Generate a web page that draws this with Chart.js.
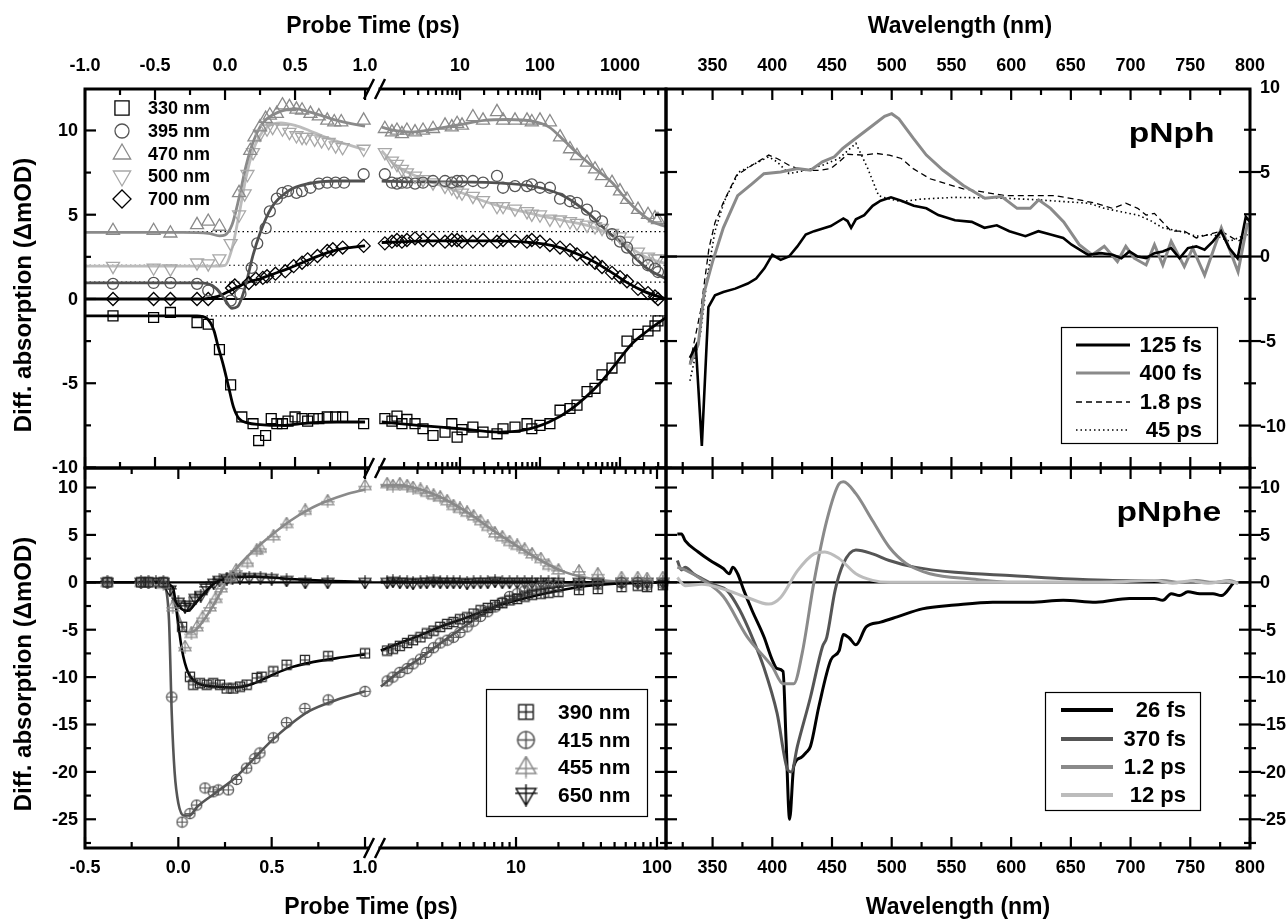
<!DOCTYPE html>
<html>
<head>
<meta charset="utf-8">
<script src="https://cdn.jsdelivr.net/npm/chart.js@4.4.1/dist/chart.umd.min.js"></script>
<style>
  body { margin: 0; background: #fff; }
  #fig { position: relative; width: 1287px; height: 920px; overflow: hidden;
         font-family: "Liberation Sans", Arial, Helvetica, sans-serif; font-weight: bold; color: #000; }
  #fig canvas { position: absolute; left: 0; top: 0; }
  .t { position: absolute; white-space: nowrap; line-height: 1; }
  .c { transform: translate(-50%, -50%); }
  .v { transform: translate(-50%, -50%) rotate(-90deg); }
  .lab { font-size: 28px; line-height: 28px; transform: scaleX(1.2); transform-origin: right center; }
</style>
</head>
<body>
<div id="fig">
  <canvas id="tlLin" width="1287" height="920"></canvas>
  <canvas id="tlLog" width="1287" height="920"></canvas>
  <canvas id="blLin" width="1287" height="920"></canvas>
  <canvas id="blLog" width="1287" height="920"></canvas>
  <canvas id="tr" width="1287" height="920"></canvas>
  <canvas id="br" width="1287" height="920"></canvas>

  <div class="t c" style="left:373px;top:25px;font-size:23px">Probe Time (ps)</div>
  <div class="t c" style="left:960px;top:25px;font-size:23px">Wavelength (nm)</div>
  <div class="t c" style="left:371px;top:906px;font-size:23px">Probe Time (ps)</div>
  <div class="t c" style="left:958px;top:906px;font-size:23px">Wavelength (nm)</div>
  <div class="t v" style="left:23px;top:295px;font-size:24px">Diff. absorption (ΔmOD)</div>
  <div class="t v" style="left:23px;top:674px;font-size:24px">Diff. absorption (ΔmOD)</div>
  <div class="t lab" style="right:72px;top:119px">pNph</div>
  <div class="t lab" style="right:66px;top:498px">pNphe</div>
</div>

<script>
// ---------- pNph kinetics (top left) ----------
const topNames = ['330 nm', '395 nm', '470 nm', '500 nm', '700 nm'];

// markers before the axis break (t <= 1 ps): [time, dA]
const k330 = [[-0.8,-1.0],[-0.51,-1.1],[-0.39,-0.8],[-0.2,-1.4],[-0.12,-1.5],[-0.04,-3.0],[0.04,-5.1],[0.12,-7.0],[0.2,-7.4],[0.24,-8.4],[0.29,-8.1],[0.33,-7.1],[0.37,-7.4],[0.41,-7.4],[0.45,-7.25],[0.5,-7.0],[0.55,-7.1],[0.59,-7.25],[0.63,-7.1],[0.67,-7.1],[0.73,-7.0],[0.79,-7.0],[0.84,-7.0],[0.99,-7.4]];
const k395 = [[-0.8,0.9],[-0.51,0.95],[-0.39,0.95],[-0.2,0.9],[-0.12,0.5],[0.04,-0.1],[0.11,0.3],[0.19,1.85],[0.23,3.3],[0.29,4.2],[0.32,5.2],[0.37,5.95],[0.41,6.3],[0.45,6.4],[0.51,6.3],[0.55,6.4],[0.61,6.6],[0.67,6.85],[0.73,6.9],[0.79,6.9],[0.85,6.9],[0.99,7.4]];
const k470 = [[-0.8,4.05],[-0.51,4.05],[-0.39,3.9],[-0.2,4.4],[-0.12,4.6],[-0.04,4.3],[0.1,6.3],[0.18,8.8],[0.21,9.6],[0.25,10.2],[0.29,10.7],[0.32,10.9],[0.37,11.0],[0.41,11.5],[0.46,11.4],[0.51,11.25],[0.55,11.2],[0.61,11.0],[0.67,10.85],[0.73,10.6],[0.78,10.5],[0.83,10.5],[0.99,10.6]];
const k500 = [[-0.8,1.95],[-0.51,1.85],[-0.39,1.8],[-0.2,2.15],[-0.12,2.1],[-0.04,2.4],[0.04,3.3],[0.1,5.0],[0.14,6.25],[0.16,7.4],[0.2,8.7],[0.25,9.8],[0.3,10.1],[0.34,10.2],[0.41,10.1],[0.46,9.9],[0.51,9.7],[0.55,9.6],[0.58,9.6],[0.64,9.5],[0.69,9.4],[0.74,9.3],[0.79,9.1],[0.84,9.0],[0.99,8.9]];
const k700 = [[-0.8,0],[-0.51,0],[-0.39,0],[-0.2,0],[-0.12,0],[0.05,0.65],[0.07,0.8],[0.17,0.95],[0.22,1.2],[0.27,1.25],[0.3,1.35],[0.36,1.5],[0.43,1.65],[0.49,1.95],[0.55,2.15],[0.59,2.35],[0.66,2.55],[0.73,2.85],[0.77,2.95],[0.84,3.05],[0.99,3.15]];

// markers after the break (log time axis)
const tLogTop = [1.15,1.41,1.63,1.88,2.17,2.74,3.45,4.6,6.5,7.9,9.2,10.6,14.5,19.4,29,34.5,48.7,68.8,79,100,133,178,237,290,387,487,596,794,1000,1223,1679,2239,2738,2985];
const k330L = [-7.1,-7.25,-6.95,-7.4,-7.15,-7.4,-7.7,-8.1,-7.9,-7.4,-8.2,-7.75,-7.6,-7.9,-8.0,-7.7,-7.6,-7.4,-7.7,-7.5,-7.4,-6.6,-6.5,-6.3,-5.5,-5.3,-4.5,-4.1,-3.5,-2.5,-2.1,-1.9,-1.6,-1.3];
const k395L = [7.4,6.9,6.85,6.9,6.9,6.85,6.9,7.0,7.0,6.9,7.0,7.0,7.0,6.9,7.3,6.6,6.7,6.7,6.8,6.6,6.6,5.95,5.8,5.7,5.3,4.9,4.6,3.85,3.4,3.05,2.3,2.0,1.8,1.6];
const k470L = [10.1,9.9,10.0,9.8,10.0,9.9,10.0,10.1,10.3,10.2,10.4,10.3,10.8,10.6,11.1,10.6,10.6,10.6,10.5,10.6,10.5,9.6,8.9,8.5,8.1,7.7,7.3,6.9,6.4,5.9,5.3,5.0,4.8,4.7];
const k500L = [8.7,8.2,8.0,7.7,7.5,7.3,7.1,6.9,6.7,6.6,6.4,6.3,6.1,5.85,5.5,5.5,5.35,5.2,5.05,5.0,4.75,4.7,4.6,4.5,4.4,4.3,4.2,3.9,3.7,3.45,2.8,2.5,2.4,2.4];
const k700L = [3.3,3.4,3.5,3.4,3.5,3.6,3.5,3.5,3.4,3.5,3.5,3.4,3.4,3.5,3.4,3.5,3.45,3.4,3.5,3.4,3.2,3.05,2.9,2.65,2.4,2.15,1.9,1.55,1.3,1.05,0.6,0.35,0.15,0.0];

// fit curves (both sides of the break)
const f330 = [[-1,-1.0],[-0.2,-1.0],[-0.13,-1.15],[-0.08,-1.85],[-0.05,-2.8],[-0.01,-4.0],[0.025,-5.2],[0.06,-6.4],[0.1,-7.1],[0.16,-7.35],[0.25,-7.45],[0.4,-7.5],[0.6,-7.35],[0.8,-7.3],[1.0,-7.3],[1.05,-7.3],[3,-7.5],[10,-7.7],[30,-7.9],[60,-7.8],[130,-7.3],[250,-6.5],[560,-5.0],[900,-3.8],[1450,-2.6],[2200,-1.9],[3758,-1.1]];
const f395 = [[-1,0.95],[-0.2,0.95],[-0.12,0.9],[-0.06,0.6],[0.0,-0.05],[0.05,-0.55],[0.09,-0.45],[0.14,0.6],[0.2,2.6],[0.25,3.9],[0.33,5.4],[0.45,6.4],[0.6,6.85],[0.8,7.0],[1.0,7.0],[1.05,7.0],[3,6.95],[10,6.95],[40,6.85],[100,6.6],[200,6.1],[400,5.1],[700,4.0],[1000,3.4],[1500,2.5],[2200,1.8],[3758,1.2]];
const f470 = [[-1,3.95],[-0.3,3.95],[-0.12,3.9],[-0.04,3.75],[0.0,3.8],[0.05,4.4],[0.1,6.0],[0.15,7.9],[0.2,9.3],[0.25,10.2],[0.3,10.7],[0.4,11.15],[0.5,11.3],[0.6,11.1],[0.7,10.85],[0.8,10.6],[0.9,10.4],[1.0,10.25],[1.05,10.2],[1.5,10.0],[2.5,9.9],[5,10.1],[10,10.35],[20,10.6],[40,10.65],[80,10.55],[130,10.2],[200,9.4],[300,8.6],[500,7.7],[800,6.9],[1200,5.9],[1700,5.2],[2500,4.6],[3758,4.3]];
const f500 = [[-1,1.95],[-0.1,1.95],[0.0,2.0],[0.05,3.0],[0.1,5.0],[0.15,7.2],[0.2,8.8],[0.25,9.7],[0.3,10.2],[0.4,10.45],[0.5,10.3],[0.6,10.0],[0.7,9.65],[0.8,9.35],[0.9,9.1],[1.0,8.85],[1.05,8.8],[1.5,8.0],[2.5,7.4],[4,7.0],[7,6.6],[12,6.2],[20,5.8],[35,5.45],[60,5.2],[100,4.95],[200,4.65],[400,4.35],[700,3.9],[1000,3.5],[1500,2.9],[2200,2.45],[3758,2.1]];
const f700 = [[-1,0],[-0.15,0],[-0.05,0.15],[0.05,0.55],[0.15,0.95],[0.25,1.2],[0.35,1.5],[0.45,1.8],[0.55,2.15],[0.65,2.5],[0.75,2.8],[0.85,3.0],[1.0,3.15],[1.05,3.35],[5,3.45],[30,3.45],[80,3.35],[150,3.15],[300,2.65],[500,2.15],[800,1.55],[1200,1.0],[2000,0.45],[3758,0.0]];

// ---------- pNphe kinetics (bottom left) ----------
const botNames = ['390 nm', '415 nm', '455 nm', '650 nm'];
const b390 = [[-0.38,0],[-0.2,0],[-0.16,0],[-0.08,0],[0.02,-4.7],[0.062,-9.96],[0.08,-10.8],[0.116,-10.65],[0.152,-10.8],[0.187,-10.65],[0.223,-10.8],[0.259,-11.2],[0.294,-11.2],[0.33,-11.0],[0.366,-10.8],[0.42,-10.1],[0.446,-9.96],[0.509,-9.4],[0.58,-8.7],[0.678,-8.2],[0.803,-7.8],[1.0,-7.5]];
const b415 = [[-0.38,0],[-0.2,0],[-0.16,0],[-0.08,0],[-0.035,-12.1],[0.02,-25.3],[0.062,-24.4],[0.098,-23.5],[0.143,-21.7],[0.187,-22.1],[0.214,-21.9],[0.268,-21.9],[0.312,-20.8],[0.366,-19.6],[0.41,-18.6],[0.437,-18.0],[0.509,-16.4],[0.58,-14.8],[0.678,-13.3],[0.803,-12.4],[1.0,-11.5]];
const b455 = [[-0.38,0],[-0.2,0],[-0.16,0],[-0.08,-0.2],[-0.03,-2.6],[0.036,-6.8],[0.07,-5.4],[0.1,-4.7],[0.13,-3.7],[0.17,-2.6],[0.2,-1.7],[0.23,-0.6],[0.28,0.5],[0.31,1.3],[0.37,2.1],[0.42,3.4],[0.44,3.6],[0.51,4.9],[0.58,6.2],[0.68,7.6],[0.8,8.6],[1.0,10.2]];
const b650 = [[-0.38,0],[-0.2,0],[-0.16,0],[-0.12,0],[-0.08,0],[-0.045,-0.8],[0.0,-2.1],[0.036,-2.6],[0.06,-2.4],[0.09,-1.7],[0.12,-1.4],[0.15,-0.6],[0.19,-0.1],[0.22,0.2],[0.26,0.4],[0.29,0.5],[0.33,0.5],[0.38,0.5],[0.44,0.5],[0.5,0.4],[0.58,0.2],[0.68,0.0],[0.8,0.0],[1.0,0.0]];

const tLogBot = [1.22,1.34,1.5,1.69,1.86,2.1,2.33,2.6,2.9,3.25,3.6,4.0,4.5,5.0,5.6,6.3,7.1,8.0,9.0,10.2,11.5,13,15,17,20,28,38,56,73,85,110];
const b390L = [-7.2,-7.0,-6.7,-6.4,-6.1,-5.8,-5.4,-5.1,-4.7,-4.4,-4.2,-3.9,-3.7,-3.3,-2.95,-2.7,-2.4,-2.2,-1.9,-1.75,-1.5,-1.3,-1.2,-1.1,-1.0,-0.8,-0.7,-0.5,-0.35,-0.5,-0.3];
const b415L = [-10.4,-10.0,-9.5,-9.1,-8.6,-8.1,-7.4,-6.9,-6.4,-6.1,-5.8,-5.3,-4.7,-4.1,-3.6,-3.1,-2.6,-2.1,-1.5,-1.2,-0.9,-0.7,-0.5,-0.4,-0.3,-0.2,-0.1,0,0,-0.3,-0.1];
const b455L = [10.4,10.2,10.4,10.2,10.0,9.8,9.5,9.2,9.0,8.6,8.1,7.8,7.4,7.0,6.5,5.9,5.2,4.8,4.3,3.9,3.5,3.0,2.5,1.8,1.3,1.2,0.9,0.5,0.5,0.4,0.5];
const b650L = [0,0.1,0,0,-0.1,0,0,0.1,0,0,0,0,-0.1,0,0,0,0.1,0,0,0,0,0,0,0,0,0,0,0,0,0,0];

const g390 = [[-0.5,0],[-0.1,0],[-0.03,-0.5],[0,-4.5],[0.02,-7.2],[0.05,-9.4],[0.1,-10.6],[0.2,-11.0],[0.3,-11.1],[0.4,-10.7],[0.5,-9.8],[0.6,-9.0],[0.7,-8.5],[0.85,-8.0],[1.0,-7.6],[1.1,-7.2],[1.5,-6.4],[2,-5.7],[3,-4.6],[4.5,-3.7],[7,-2.6],[13,-1.5],[28,-0.5],[50,-0.15],[116,0]];
const g415 = [[-0.5,0],[-0.1,0],[-0.07,-0.5],[-0.05,-4],[-0.035,-14],[-0.02,-20],[0.0,-23.3],[0.03,-24.6],[0.06,-24.6],[0.1,-23.7],[0.2,-22.2],[0.3,-20.7],[0.4,-18.7],[0.5,-16.7],[0.6,-15.0],[0.7,-13.6],[0.85,-12.4],[1.0,-11.5],[1.1,-11.0],[1.5,-9.4],[2,-8.2],[3,-6.3],[5,-4.0],[8,-2.2],[12,-1.1],[20,-0.45],[35,-0.15],[116,0]];
const g455 = [[-0.5,0],[-0.1,0],[-0.05,-0.5],[0.0,-3.5],[0.05,-5.3],[0.08,-5.2],[0.15,-3.6],[0.2,-2.0],[0.25,-0.2],[0.3,1.2],[0.4,3.3],[0.5,5.0],[0.6,6.5],[0.7,7.7],[0.8,8.6],[0.9,9.3],[1.0,9.8],[1.1,10.2],[1.4,10.25],[2,9.9],[3,8.9],[4.5,7.4],[7,5.4],[10,3.9],[15,2.3],[22,1.1],[35,0.35],[60,0.05],[116,0]];
const g650 = [[-0.5,0],[-0.1,0],[-0.05,-0.6],[0.0,-2.5],[0.05,-3.0],[0.1,-2.0],[0.15,-0.9],[0.2,0.0],[0.3,0.5],[0.4,0.6],[0.5,0.5],[0.6,0.35],[0.8,0.15],[1.0,0.05],[1.1,0],[116,0]];

// ---------- pNph spectra (top right): [nm, dA] ----------
const specTopNames = ['125 fs', '400 fs', '1.8 ps', '45 ps'];
const s125 = [[331,-6.0],[336,-5.3],[341,-11.2],[346.5,-3.0],[352,-2.3],[359,-2.1],[369,-1.9],[379.5,-1.6],[386.5,-1.3],[393.4,-0.7],[400,0.1],[407,-0.2],[414,0.0],[421,0.6],[428,1.3],[435,1.5],[449,1.8],[459.5,2.25],[463,2.1],[466,1.7],[470,2.2],[477,2.45],[484,3.0],[490.7,3.3],[499.4,3.5],[508,3.3],[518.5,3.0],[529,2.85],[539,2.45],[553,2.15],[567,2.05],[577.6,1.7],[588,1.85],[598.5,1.5],[612,1.2],[622.8,1.5],[633,1.3],[643.6,1.1],[650.6,0.7],[664.5,0.1],[675,0.2],[685,0.1],[692.3,-0.1],[699,0.3],[706,0.0],[713,-0.1],[720,0.2],[727,0.3],[734,0.5],[741,-0.1],[748,0.5],[755,0.6],[762,0.4],[769,0.9],[775.7,1.5],[782.6,0.5],[789.6,-0.1],[796.5,2.35],[800,2.05]];
const s400 = [[331,-6.4],[338,-5.2],[343,-2.1],[350,-0.3],[359,1.7],[371,3.6],[383,4.3],[393,4.9],[407,5.0],[421,5.2],[432,5.1],[442,5.6],[452,5.9],[459,6.4],[470,7.0],[484,7.75],[494,8.3],[500,8.45],[506,8.15],[518,7.0],[529,6.0],[543,5.1],[560,4.2],[578,3.45],[592,3.55],[605,2.85],[616,2.85],[623,3.35],[633,2.85],[644,2.05],[657,0.7],[668,0.1],[678,0.6],[689,-0.3],[696,0.6],[703,-0.1],[713,-0.5],[720,0.7],[727,-0.5],[734,0.9],[745,-0.6],[752,0.5],[762,-1.1],[776,1.7],[790,-0.9],[798,2.0]];
const s1p8 = [[331,-6.3],[340,-3.2],[347,0.5],[352,2.0],[359,3.2],[370,4.8],[383,5.4],[397,6.0],[404,5.8],[414,5.4],[425,5.1],[439,5.1],[449,5.2],[456,5.6],[463,6.05],[477,6.0],[487,6.1],[498,6.0],[508,5.8],[518,5.2],[532,4.6],[546,4.3],[560,4.0],[578,3.8],[595,3.6],[619,3.6],[637,3.6],[657,3.35],[671,3.15],[685,2.85],[696,3.15],[706,2.85],[713,2.45],[720,2.55],[734,1.5],[745,1.5],[755,1.1],[765,1.3],[776,1.5],[790,0.9],[798,1.3]];
const s45 = [[331,-7.35],[340,-4.5],[346,-1.0],[352,1.5],[360,3.3],[372,5.0],[383,5.4],[397,5.9],[404,5.6],[414,4.9],[428,5.1],[442,5.4],[456,5.8],[470,6.7],[480,5.2],[489,3.6],[498,3.4],[508,3.25],[525,3.4],[553,3.5],[595,3.45],[623,3.35],[644,3.25],[665,3.15],[678,2.85],[692,2.65],[706,2.45],[716,2.15],[727,1.7],[741,1.5],[755,1.2],[769,1.3],[783,0.9],[797,1.3]];

// ---------- pNphe spectra (bottom right) ----------
const specBotNames = ['26 fs', '370 fs', '1.2 ps', '12 ps'];
const p26 = [[320.5,5.1],[324,5.1],[327,4.4],[338,3.2],[348,2.3],[359,1.45],[364,0.9],[367,1.6],[371,0.9],[376,-0.8],[383,-2.95],[393,-5.75],[400,-8.2],[404,-9.1],[409,-9.4],[411.5,-16.6],[414.5,-25.0],[418,-19.4],[424,-18.5],[428,-18.0],[432,-17.3],[439,-13.1],[449,-8.2],[456,-7.2],[459.5,-5.5],[464.7,-5.9],[470,-6.6],[478.6,-4.7],[490.7,-4.2],[504.6,-3.65],[525.5,-2.8],[553,-2.4],[584.6,-2.1],[616,-2.1],[643.6,-1.9],[671,-2.1],[699,-1.7],[720,-1.7],[727,-1.9],[734,-1.2],[741,-1.4],[748,-1.0],[758,-1.2],[769,-1.2],[776,-1.4],[786,-0.1]];
const p370 = [[320.5,2.3],[324,1.3],[327,1.6],[334,0.9],[341,0.4],[352,-0.3],[362,-0.85],[372.6,-2.9],[383,-5.75],[393,-9.0],[404,-13.8],[413,-19.8],[416,-20.0],[421,-17.3],[432,-12.1],[442,-6.8],[445.6,-5.8],[452.5,-0.9],[459.5,1.96],[470,3.4],[484,3.0],[498,2.3],[519,1.6],[553,1.05],[602,0.7],[650,0.35],[685,0.2],[725,0.2]];
const p1p2 = [[320.5,1.6],[327,1.3],[341,0.3],[359,-1.5],[379,-5.75],[400,-8.9],[409,-10.7],[418,-10.7],[425,-7.5],[435,0.1],[445.6,6.5],[456,10.4],[459.5,10.6],[470,9.35],[484,6.5],[498,3.7],[512,2.0],[532,0.9],[567,0.35],[602,0.0],[637,0.0],[671,0.0],[706,0.2],[727,0.2],[741,0.0],[755,0.2],[769,0.0],[783,0.2],[790,-0.1]];
const p12 = [[320.5,0.5],[327,-0.35],[341,-0.2],[359,-0.7],[379,-1.6],[397,-2.3],[407,-1.6],[421,1.2],[435,3.0],[444,3.2],[456,2.5],[470,0.9],[484,0.2],[498,0.0],[560,0.0],[620,0.0],[680,0.0],[720,0.2],[735,-0.1],[750,0.15],[765,-0.1],[780,0.1],[790,-0.1]];

// ---------- axis ticks ----------
const linTopMajor = [-1, -0.5, 0, 0.5, 1];
const linTopMinor = [-0.75, -0.25, 0.25, 0.75];
const linBotMajor = [-0.5, 0, 0.5, 1];
const linBotMinor = [-0.25, 0.25, 0.75];
const logTopMajor = [10, 100, 1000];
const logBotMajor = [10, 100];
const logMinor = [2,3,4,5,6,7,8,9,20,30,40,50,60,70,80,90,200,300,400,500,600,700,800,900,2000,3000];
const wlMajor = [350, 400, 450, 500, 550, 600, 650, 700, 750, 800];
const wlMinor = [325, 375, 425, 475, 525, 575, 625, 675, 725, 775];
const yTopMajor = [-10, -5, 0, 5, 10];
const yTopMinor = [-12.5, -7.5, -2.5, 2.5, 7.5];
const yBotMajor = [-25, -20, -15, -10, -5, 0, 5, 10];
const yBotMinor = [-27.5, -22.5, -17.5, -12.5, -7.5, -2.5, 2.5, 7.5];

// ---------- layout ----------
const W = 1287, H = 920;
const FONT = '"Liberation Sans", Arial, Helvetica, sans-serif';
const TICKF = 'bold 18px ' + FONT;
const boxTLlin = [85, 89, 368, 468], boxTLlog = [380, 89, 666, 468];
const boxBLlin = [85, 468, 368, 848], boxBLlog = [380, 468, 666, 848];
const boxTR = [666, 89, 1250, 468], boxBR = [666, 468, 1250, 848];

const isLin = t => t <= 1.0001;
const isLog = t => t > 1.0001;
const pts = (arr, keep) => arr.filter(p => !keep || keep(p[0])).map(p => ({ x: p[0], y: p[1] }));
const zip = (ts, vs) => ts.map((t, i) => [t, vs[i]]);

function plusMark(kind, size, color) {
  const c = document.createElement('canvas');
  c.width = c.height = size;
  const g = c.getContext('2d');
  const s = size, h = s / 2;
  g.strokeStyle = color;
  g.lineWidth = size > 15 ? 1.5 : 1.2;
  g.beginPath();
  if (kind === 'sq') {
    const a = s * 0.12, b = s * 0.88;
    g.rect(a, a, b - a, b - a);
    g.moveTo(h, a); g.lineTo(h, b); g.moveTo(a, h); g.lineTo(b, h);
  } else if (kind === 'ci') {
    const r = s * 0.4;
    g.arc(h, h, r, 0, 2 * Math.PI);
    g.moveTo(h, h - r); g.lineTo(h, h + r); g.moveTo(h - r, h); g.lineTo(h + r, h);
  } else if (kind === 'up') {
    g.moveTo(h, s * 0.04); g.lineTo(s * 0.93, s * 0.78); g.lineTo(s * 0.07, s * 0.78); g.closePath();
    g.moveTo(h, s * 0.04); g.lineTo(h, s * 0.98); g.moveTo(s * 0.02, s * 0.56); g.lineTo(s * 0.98, s * 0.56);
  } else {
    g.moveTo(s * 0.07, s * 0.22); g.lineTo(s * 0.93, s * 0.22); g.lineTo(h, s * 0.96); g.closePath();
    g.moveTo(h, s * 0.02); g.lineTo(h, s * 0.96); g.moveTo(s * 0.02, s * 0.42); g.lineTo(s * 0.98, s * 0.42);
  }
  g.stroke();
  return c;
}

function markers(data, style, color, r, rot) {
  return { data, showLine: false, pointStyle: style, pointRadius: r, pointRotation: rot || 0,
           pointBorderColor: color, pointBackgroundColor: 'rgba(0,0,0,0)', pointBorderWidth: 1.3, clip: 12 };
}
function curve(data, color, w, dash, smooth) {
  return { data, showLine: true, borderColor: color, borderWidth: w, borderDash: dash || [],
           pointRadius: 0, fill: false, cubicInterpolationMode: smooth === false ? 'default' : 'monotone', clip: 3 };
}

function sym(ctx, style, r, rot, color, x, y, lw) {
  ctx.save();
  ctx.strokeStyle = color; ctx.fillStyle = 'rgba(0,0,0,0)'; ctx.lineWidth = lw; ctx.setLineDash([]);
  Chart.helpers.drawPoint(ctx, { pointStyle: style, radius: r, rotation: rot, borderWidth: lw }, x, y);
  ctx.restore();
}

function breakMarks(ctx, a, ys) {
  ctx.lineWidth = 2.5; ctx.setLineDash([]);
  ctx.beginPath();
  ys.forEach(yy => {
    ctx.moveTo(a.right - 4, yy + 10); ctx.lineTo(a.right + 6, yy - 10);
    ctx.moveTo(a.right + 7, yy + 10); ctx.lineTo(a.right + 17, yy - 10);
  });
  ctx.stroke();
}

function decor(cfg) {
  return {
    id: 'decor',
    beforeDatasetsDraw(chart) {
      const { ctx, chartArea: a } = chart, ys = chart.scales.y;
      ctx.save();
      ctx.strokeStyle = '#000';
      (cfg.hlines || []).forEach(hl => {
        const py = ys.getPixelForValue(hl.v);
        ctx.lineWidth = hl.w;
        ctx.setLineDash(hl.dash || []);
        ctx.beginPath();
        ctx.moveTo(a.left, py);
        ctx.lineTo(a.right + (cfg.gap || 0), py);
        ctx.stroke();
      });
      ctx.restore();
    },
    afterDraw(chart) {
      const { ctx, chartArea: a } = chart, xs = chart.scales.x, ys = chart.scales.y;
      ctx.save();
      ctx.strokeStyle = '#000'; ctx.fillStyle = '#000'; ctx.setLineDash([]);
      // ticks
      ctx.lineWidth = 2.2;
      (cfg.xt || []).forEach(t => {
        const y0 = t.edge === 'top' ? a.top : a.bottom, s = t.edge === 'top' ? 1 : -1;
        [[t.major, 11], [t.minor || [], 6]].forEach(([vals, len]) => vals.forEach(v => {
          if (v < xs.min || v > xs.max) return;
          const px = xs.getPixelForValue(v);
          ctx.beginPath(); ctx.moveTo(px, y0 - (t.both ? s * len : 0)); ctx.lineTo(px, y0 + s * len); ctx.stroke();
        }));
      });
      (cfg.yt || []).forEach(t => {
        const x0 = t.edge === 'left' ? a.left : a.right, s = t.edge === 'left' ? 1 : -1;
        [[t.major, 11], [t.minor || [], 6]].forEach(([vals, len]) => vals.forEach(v => {
          if (v < ys.min || v > ys.max) return;
          const py = ys.getPixelForValue(v);
          ctx.beginPath(); ctx.moveTo(x0 - (t.both ? s * len : 0), py); ctx.lineTo(x0 + s * len, py); ctx.stroke();
        }));
      });
      // frame
      ctx.lineWidth = 3; ctx.lineCap = 'square';
      ctx.beginPath();
      const f = cfg.frame || [];
      if (f.includes('top')) { ctx.moveTo(a.left, a.top); ctx.lineTo(a.right, a.top); }
      if (f.includes('bottom')) { ctx.moveTo(a.left, a.bottom); ctx.lineTo(a.right, a.bottom); }
      if (f.includes('left')) { ctx.moveTo(a.left, a.top); ctx.lineTo(a.left, a.bottom); }
      if (f.includes('right')) { ctx.moveTo(a.right, a.top); ctx.lineTo(a.right, a.bottom); }
      ctx.stroke();
      ctx.lineCap = 'butt';
      // tick labels
      ctx.font = TICKF;
      ctx.textBaseline = 'middle';
      (cfg.xl || []).forEach(l => {
        ctx.textAlign = 'center';
        l.vals.forEach(v => ctx.fillText(l.fmt(v), xs.getPixelForValue(v), l.y));
      });
      (cfg.yl || []).forEach(l => {
        ctx.textAlign = l.align;
        l.vals.forEach(v => ctx.fillText(String(v), l.x, ys.getPixelForValue(v) + 1));
      });
      if (cfg.extra) cfg.extra(ctx, a);
      ctx.restore();
    }
  };
}

function panel(id, box, xScale, yScale, datasets, cfg) {
  return new Chart(document.getElementById(id), {
    type: 'scatter',
    data: { datasets },
    options: {
      responsive: false, animation: false, devicePixelRatio: 1, events: [],
      layout: { autoPadding: false, padding: { left: box[0], top: box[1], right: W - box[2], bottom: H - box[3] } },
      scales: { x: Object.assign({ display: false }, xScale), y: Object.assign({ display: false }, yScale) },
      plugins: { legend: { display: false }, tooltip: { enabled: false } }
    },
    plugins: [decor(cfg)]
  });
}

// colours
const BLK = '#000', DGR = '#555', GRY = '#8a8a8a', LGR = '#a8a8a8', VLG = '#bcbcbc';

// ---------- top-left (pNph kinetics) ----------
const yTL = { type: 'linear', min: -10.03, max: 12.46 };
function tlSets(keep, extra) {
  const side = k => keep === isLin ? pts(k, isLin) : [];
  const logSide = (ts, vs) => keep === isLog ? pts(zip(ts, vs)) : [];
  return [
    markers(side(k330).concat(logSide(tLogTop, k330L)), 'rect', BLK, 7, 0),
    markers(side(k395).concat(logSide(tLogTop, k395L)), 'circle', DGR, 5.5, 0),
    markers(side(k470).concat(logSide(tLogTop, k470L)), 'triangle', GRY, 7.5, 0),
    markers(side(k500).concat(logSide(tLogTop, k500L)), 'triangle', LGR, 7.5, 180),
    markers(side(k700).concat(logSide(tLogTop, k700L)), 'rectRot', BLK, 6.5, 0),
    curve(pts(f330, keep), BLK, 2.8),
    curve(pts(f395, keep), '#505050', 2.8),
    curve(pts(f470, keep), GRY, 2.8),
    curve(pts(f500, keep), VLG, 2.8),
    curve(pts(f700, keep), BLK, 2.8)
  ];
}
const tlH = [
  { v: 0, w: 2.2 },
  { v: 4, w: 1.2, dash: [1.5, 3] }, { v: 2, w: 1.2, dash: [1.5, 3] },
  { v: 1, w: 1.2, dash: [1.5, 3] }, { v: -1, w: 1.2, dash: [1.5, 3] }
];
const tlLegend = [['rect', 10, 0, BLK], ['circle', 7, 0, DGR], ['triangle', 10, 0, GRY], ['triangle', 10, 180, LGR], ['rectRot', 9, 0, BLK]];
const tlRows = [108, 131, 154, 176, 199];

panel('tlLin', boxTLlin, { type: 'linear', min: -1, max: 1.021 }, yTL, tlSets(isLin), {
  frame: ['top', 'bottom', 'left'], hlines: tlH, gap: 12,
  xt: [{ edge: 'top', major: linTopMajor, minor: linTopMinor }, { edge: 'bottom', major: linTopMajor, minor: linTopMinor }],
  yt: [{ edge: 'left', major: yTopMajor, minor: yTopMinor }],
  xl: [{ vals: linTopMajor, y: 66, fmt: v => v.toFixed(1) }],
  yl: [{ vals: yTopMajor, x: 78, align: 'right' }],
  extra(ctx, a) {
    breakMarks(ctx, a, [a.top, a.bottom]);
    ctx.font = 'bold 18px ' + FONT; ctx.textAlign = 'left'; ctx.textBaseline = 'middle'; ctx.fillStyle = '#000';
    topNames.forEach((n, i) => {
      const [st, r, rot, col] = tlLegend[i];
      sym(ctx, st, r, rot, col, 122, tlRows[i], 1.3);
      ctx.fillText(n, 148, tlRows[i] + 1);
    });
  }
});
panel('tlLog', boxTLlog, { type: 'logarithmic', min: 1, max: 3758 }, yTL, tlSets(isLog), {
  frame: ['top', 'bottom', 'right'], hlines: tlH,
  xt: [{ edge: 'top', major: logTopMajor, minor: logMinor }, { edge: 'bottom', major: logTopMajor, minor: logMinor }],
  yt: [{ edge: 'right', major: yTopMajor, minor: yTopMinor }],
  xl: [{ vals: logTopMajor, y: 66, fmt: v => String(v) }]
});

// ---------- bottom-left (pNphe kinetics) ----------
const yBL = { type: 'linear', min: -28.03, max: 12.06 };
const mk = {
  sq: plusMark('sq', 12, '#222'), ci: plusMark('ci', 13, DGR),
  up: plusMark('up', 14, GRY), dn: plusMark('dn', 14, '#111')
};
const lg = {
  sq: plusMark('sq', 19, '#222'), ci: plusMark('ci', 21, DGR),
  up: plusMark('up', 23, GRY), dn: plusMark('dn', 23, '#111')
};
function blSets(keep) {
  const side = (k, ts, vs) => keep === isLin ? pts(k, isLin) : pts(zip(ts, vs));
  return [
    markers(side(b390, tLogBot, b390L), mk.sq, BLK, 6, 0),
    markers(side(b415, tLogBot, b415L), mk.ci, DGR, 6, 0),
    markers(side(b455, tLogBot, b455L), mk.up, GRY, 6, 0),
    markers(side(b650, tLogBot, b650L), mk.dn, BLK, 6, 0),
    curve(pts(g390, keep), BLK, 2.6),
    curve(pts(g415, keep), DGR, 2.6),
    curve(pts(g455, keep), GRY, 2.6),
    curve(pts(g650, keep), BLK, 2.6)
  ];
}
panel('blLin', boxBLlin, { type: 'linear', min: -0.5, max: 1.016 }, yBL, blSets(isLin), {
  frame: ['top', 'bottom', 'left'], hlines: [{ v: 0, w: 2.2 }], gap: 12,
  xt: [{ edge: 'top', major: linBotMajor, minor: linBotMinor }, { edge: 'bottom', major: linBotMajor, minor: linBotMinor }],
  yt: [{ edge: 'left', major: yBotMajor, minor: yBotMinor }],
  xl: [{ vals: linBotMajor, y: 868, fmt: v => v.toFixed(1) }],
  yl: [{ vals: yBotMajor, x: 78, align: 'right' }],
  extra(ctx, a) { breakMarks(ctx, a, [a.bottom]); }
});
panel('blLog', boxBLlog, { type: 'logarithmic', min: 1.085, max: 115.8 }, yBL, blSets(isLog), {
  frame: ['top', 'bottom', 'right'], hlines: [{ v: 0, w: 2.2 }],
  xt: [{ edge: 'top', major: logBotMajor, minor: logMinor }, { edge: 'bottom', major: logBotMajor, minor: logMinor }],
  yt: [{ edge: 'right', major: yBotMajor, minor: yBotMinor }],
  xl: [{ vals: logBotMajor, y: 868, fmt: v => String(v) }],
  extra(ctx) {
    ctx.lineWidth = 1.2; ctx.strokeStyle = '#000';
    ctx.strokeRect(486.5, 689.5, 161, 127);
    ctx.font = 'bold 21px ' + FONT; ctx.textAlign = 'left'; ctx.textBaseline = 'middle';
    const syms = [lg.sq, lg.ci, lg.up, lg.dn], rows = [712, 740, 767, 795];
    botNames.forEach((n, i) => {
      Chart.helpers.drawPoint(ctx, { pointStyle: syms[i], radius: 8, rotation: 0, borderWidth: 0 }, 526, rows[i]);
      ctx.fillText(n, 558, rows[i] + 1);
    });
  }
});

// ---------- right panels (spectra) ----------
const xWl = { type: 'linear', min: 311, max: 800 };
function lineLegend(ctx, box, x1, x2, xt, rows, names, styles) {
  ctx.lineWidth = 1.2; ctx.strokeStyle = '#000'; ctx.setLineDash([]);
  ctx.strokeRect(box[0] + 0.5, box[1] + 0.5, box[2] - box[0], box[3] - box[1]);
  ctx.font = 'bold 22px ' + FONT; ctx.textAlign = 'right'; ctx.textBaseline = 'middle';
  names.forEach((n, i) => {
    const st = styles[i];
    ctx.strokeStyle = st.c; ctx.lineWidth = st.w; ctx.setLineDash(st.d || []);
    ctx.beginPath(); ctx.moveTo(x1, rows[i]); ctx.lineTo(x2, rows[i]); ctx.stroke();
    ctx.setLineDash([]);
    ctx.fillText(n, xt, rows[i] + 1);
  });
}
const trStyles = [{ c: BLK, w: 3 }, { c: GRY, w: 3.2 }, { c: BLK, w: 1.3, d: [6, 4] }, { c: BLK, w: 1.6, d: [1.5, 3] }];
panel('tr', boxTR, xWl, { type: 'linear', min: -12.51, max: 9.91 }, [
  curve(pts(s125), BLK, 2.6, [], false),
  curve(pts(s400), GRY, 3, [], false),
  curve(pts(s1p8), BLK, 1.3, [6, 4], false),
  curve(pts(s45), BLK, 1.6, [1.5, 3], false)
], {
  frame: ['top', 'bottom', 'left', 'right'], hlines: [{ v: 0, w: 2.2 }],
  xt: [{ edge: 'top', major: wlMajor, minor: wlMinor }, { edge: 'bottom', major: wlMajor, minor: wlMinor }],
  yt: [{ edge: 'left', major: yTopMajor, minor: yTopMinor }, { edge: 'right', major: yTopMajor, minor: yTopMinor, both: true }],
  xl: [{ vals: wlMajor, y: 66, fmt: v => String(v) }],
  yl: [{ vals: yTopMajor, x: 1260, align: 'left' }],
  extra(ctx) { lineLegend(ctx, [1061, 327, 1217, 443], 1076, 1130, 1202, [345, 373, 402, 430], specTopNames, trStyles); }
});
const brStyles = [{ c: BLK, w: 4 }, { c: DGR, w: 4 }, { c: GRY, w: 4 }, { c: VLG, w: 4 }];
panel('br', boxBR, xWl, yBL, [
  curve(pts(p12), VLG, 3),
  curve(pts(p1p2), GRY, 3),
  curve(pts(p370), DGR, 3),
  curve(pts(p26), BLK, 3)
], {
  frame: ['top', 'bottom', 'left', 'right'], hlines: [{ v: 0, w: 2.2 }],
  xt: [{ edge: 'top', major: wlMajor, minor: wlMinor }, { edge: 'bottom', major: wlMajor, minor: wlMinor }],
  yt: [{ edge: 'left', major: yBotMajor, minor: yBotMinor }, { edge: 'right', major: yBotMajor, minor: yBotMinor, both: true }],
  xl: [{ vals: wlMajor, y: 868, fmt: v => String(v) }],
  yl: [{ vals: yBotMajor, x: 1260, align: 'left' }],
  extra(ctx) { lineLegend(ctx, [1045, 692, 1200, 810], 1061, 1113, 1186, [710, 739, 767, 795], specBotNames, brStyles); }
});
</script>
</body>
</html>
